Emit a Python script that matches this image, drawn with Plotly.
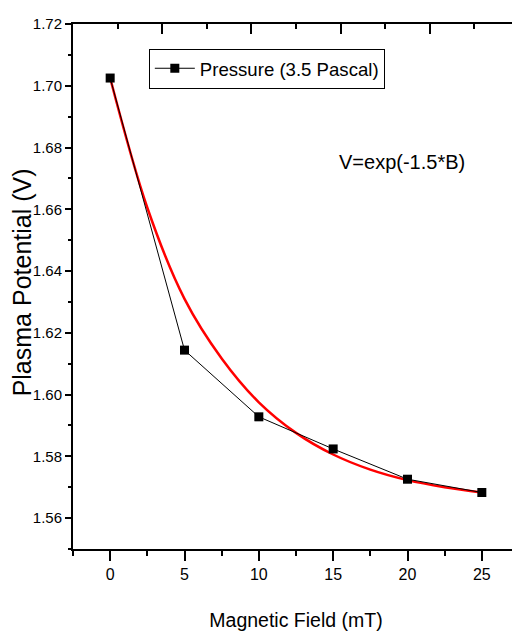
import plotly.graph_objects as go

# ---- data ----
magnetic_field = [0, 5, 10, 15, 20, 25]
plasma_potential = [1.7025, 1.6144, 1.5928, 1.5824, 1.5726, 1.5683]

fit_field = [0, 2.5, 5, 7.5, 10, 12.5, 15, 17.5, 20, 22.5, 25]
fit_potential = [1.7025, 1.6605, 1.6310, 1.6117, 1.5975, 1.5876, 1.5806, 1.5757, 1.5723, 1.5700, 1.5683]

series_name = "Pressure (3.5 Pascal)"
fit_label = "V=exp(-1.5*B)"
x_title = "Magnetic Field (mT)"
y_title = "Plasma Potential (V)"

FONT = "Liberation Sans, Arial, sans-serif"

fig = go.Figure()

fig.add_trace(go.Scatter(
    x=fit_field, y=fit_potential, mode="lines",
    line=dict(color="#ff0000", width=2.5, shape="spline"),
    showlegend=False, hoverinfo="skip"))

fig.add_trace(go.Scatter(
    x=magnetic_field, y=plasma_potential, mode="lines+markers",
    name=series_name,
    line=dict(color="black", width=1),
    marker=dict(symbol="square", size=9, color="black")))

# empty trace to host the top/right frame axes
fig.add_trace(go.Scatter(x=[], y=[], xaxis="x2", yaxis="y2", showlegend=False))

fig.update_layout(
    width=520, height=635,
    margin=dict(l=65, r=7, t=10, b=94),
    plot_bgcolor="white", paper_bgcolor="white",
    font=dict(family=FONT, color="black"),
    legend=dict(x=0.17, y=0.953, xanchor="left", yanchor="top",
                bordercolor="black", borderwidth=1, bgcolor="white",
                itemwidth=40,
                font=dict(family=FONT, size=18.6)),
    xaxis=dict(range=[-2.5, 27.5], tick0=0, dtick=5,
               ticks="outside", ticklen=10, tickwidth=1.5, tickcolor="black",
               showline=True, linewidth=2, linecolor="black", mirror=True,
               showgrid=False, zeroline=False,
               tickfont=dict(family=FONT, size=16),
               minor=dict(tick0=0, dtick=2.5, ticks="outside", ticklen=5,
                          tickwidth=1.5, tickcolor="black", showgrid=False),
               title=dict(text=x_title, font=dict(family=FONT, size=19.5), standoff=31)),
    yaxis=dict(range=[1.55, 1.72], tick0=1.56, dtick=0.02, tickformat=".2f",
               ticks="outside", ticklen=6, tickwidth=1.5, tickcolor="black",
               showline=True, linewidth=2, linecolor="black", mirror=True,
               showgrid=False, zeroline=False,
               tickfont=dict(family=FONT, size=15),
               minor=dict(tick0=1.56, dtick=0.01, ticks="outside", ticklen=3,
                          tickwidth=1.5, tickcolor="black", showgrid=False)),
    xaxis2=dict(overlaying="x", side="top", range=[0, 1], tick0=0, dtick=0.2,
                ticks="inside", ticklen=10, tickwidth=1.5, tickcolor="black",
                showticklabels=False, showline=False, showgrid=False, zeroline=False,
                minor=dict(tick0=0, dtick=0.1, ticks="inside", ticklen=5,
                           tickwidth=1.5, tickcolor="black", showgrid=False)),
    yaxis2=dict(overlaying="y", side="right", range=[0, 1], tick0=0, dtick=0.2,
                ticks="inside", ticklen=5, tickwidth=1.5, tickcolor="black",
                showticklabels=False, showline=False, showgrid=False, zeroline=False,
                minor=dict(tick0=0, dtick=0.1, ticks="inside", ticklen=2.5,
                           tickwidth=1.5, tickcolor="black", showgrid=False)),
    annotations=[
        dict(text=fit_label, x=19.6, y=1.6753, xref="x", yref="y",
             xanchor="center", yanchor="middle",
             showarrow=False, font=dict(family=FONT, size=20)),
        dict(text=y_title, x=-0.1154, y=0.507, xref="paper", yref="paper",
             xanchor="center", yanchor="middle", borderpad=0,
             textangle=-90, showarrow=False, font=dict(family=FONT, size=25)),
    ],
)

fig.write_html("out.html")
